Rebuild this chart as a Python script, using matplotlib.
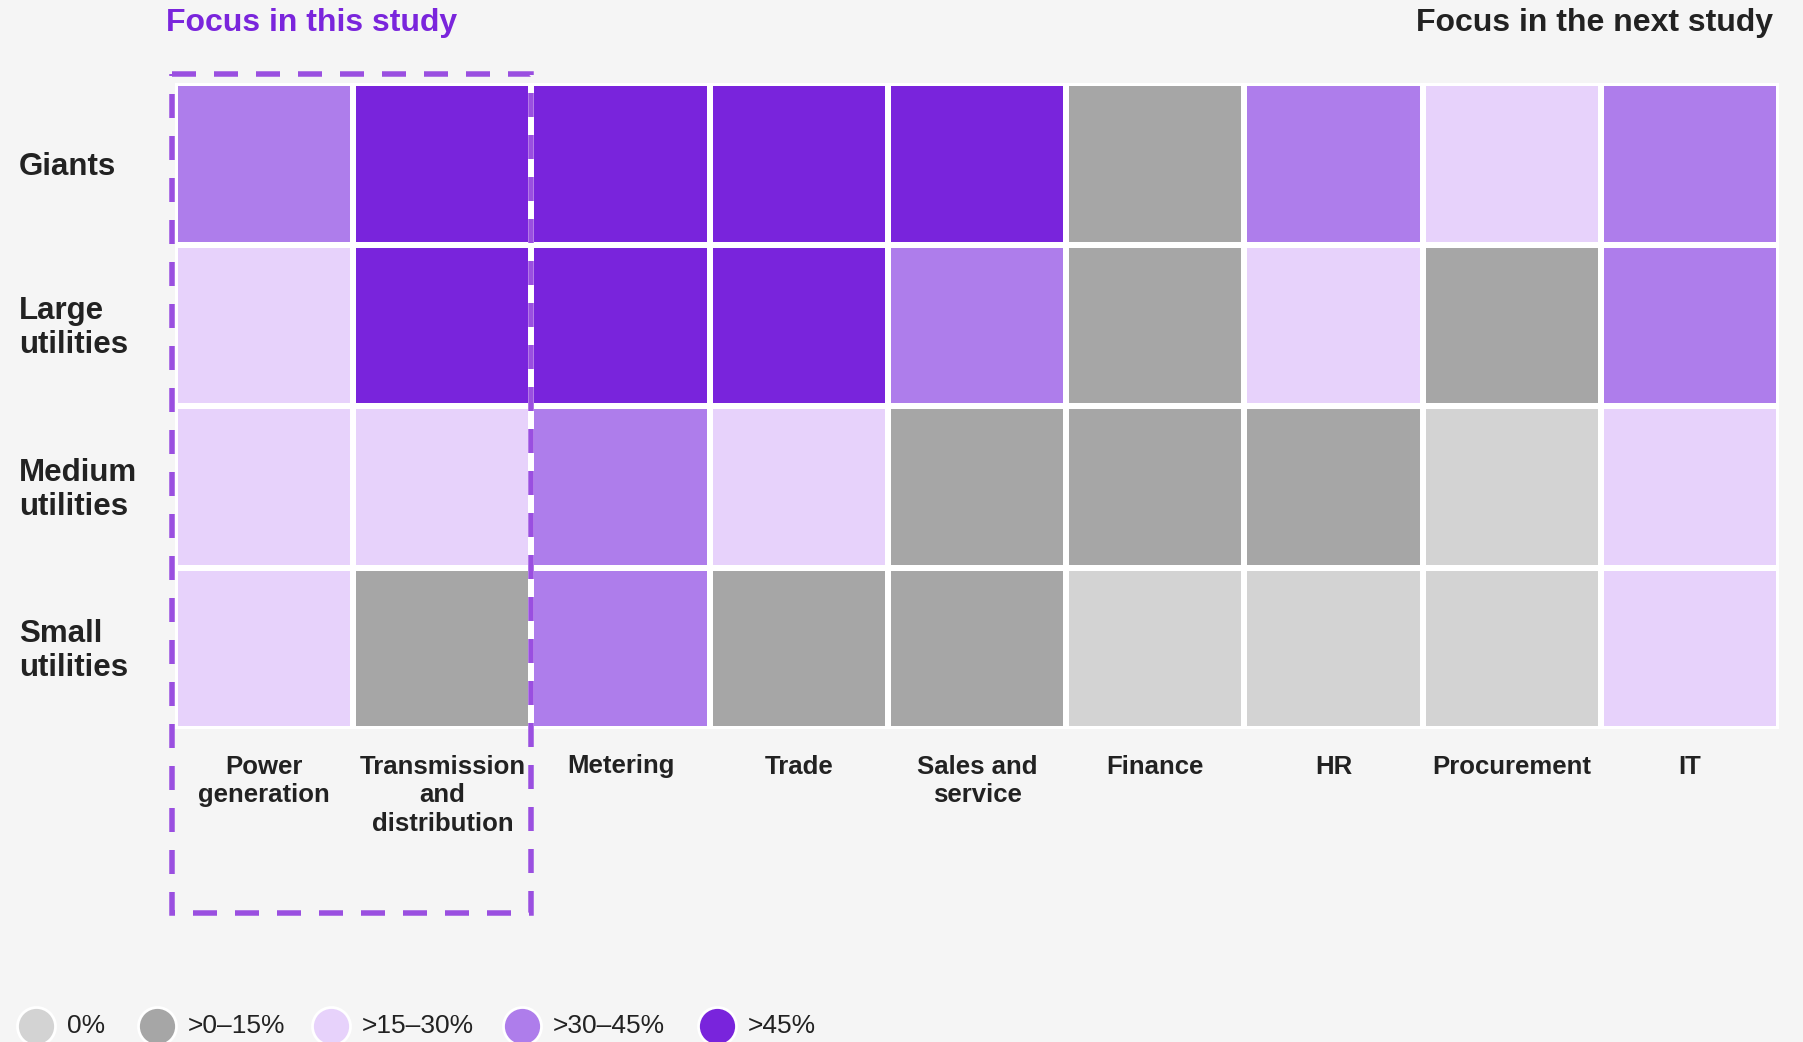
import matplotlib
matplotlib.use("Agg")
import matplotlib.pyplot as plt
from matplotlib.colors import ListedColormap, BoundaryNorm
from matplotlib.patches import Rectangle
import numpy as np

# ---- data ----
columns = ["Power\ngeneration", "Transmission\nand\ndistribution", "Metering", "Trade",
           "Sales and\nservice", "Finance", "HR", "Procurement", "IT"]
rows = ["Giants", "Large\nutilities", "Medium\nutilities", "Small\nutilities"]
# level index: 0 = 0%, 1 = >0–15%, 2 = >15–30%, 3 = >30–45%, 4 = >45%
giants = [3, 4, 4, 4, 4, 1, 3, 2, 3]
large = [2, 4, 4, 4, 3, 1, 2, 1, 3]
medium = [2, 2, 3, 2, 1, 1, 1, 0, 2]
small = [2, 1, 3, 1, 1, 0, 0, 0, 2]
legend_labels = ["0%", ">0–15%", ">15–30%", ">30–45%", ">45%"]
legend_colors = ["#D3D3D3", "#A6A6A6", "#E7D2FB", "#AE7DEB", "#7924DC"]
title_left = "Focus in this study"
title_right = "Focus in the next study"

W, H = 1803, 1042
DPI = 100
BG = "#F5F5F5"
DARK = "#222222"
PURPLE = "#7A25DC"
DASH = "#9A4FE0"

plt.rcParams["font.family"] = ["Liberation Sans", "DejaVu Sans"]

fig = plt.figure(figsize=(W / DPI, H / DPI), dpi=DPI, facecolor=BG)


def fx(x):
    return x / W


def fy(y):
    return 1 - y / H


# heatmap axes (pixel bounds of the grid)
gx0, gx1, gy0, gy1 = 175, 1779, 83, 729
ax = fig.add_axes([fx(gx0), fy(gy1), (gx1 - gx0) / W, (gy1 - gy0) / H])
ax.set_facecolor("white")
data = np.array([giants, large, medium, small])
cmap = ListedColormap(legend_colors)
norm = BoundaryNorm(np.arange(-0.5, 5.5, 1), cmap.N)
ax.pcolormesh(np.arange(-0.5, len(columns)), np.arange(-0.5, len(rows)), data,
              cmap=cmap, norm=norm, edgecolors="white", linewidth=2.9)
ax.set_xlim(-0.5, len(columns) - 0.5)
ax.set_ylim(len(rows) - 0.5, -0.5)
for s in ax.spines.values():
    s.set_visible(False)
ax.set_xticks([])
ax.set_yticks([])

# dashed focus box (in grid data coordinates)
cw = (gx1 - gx0) / len(columns)
ch = (gy1 - gy0) / len(rows)
bx0 = -0.5 + (172 - gx0) / cw
bx1 = -0.5 + (531 - gx0) / cw
by0 = -0.5 + (74 - gy0) / ch
by1 = -0.5 + (913.5 - gy0) / ch
lw_px = 5.5
box = Rectangle((bx0, by0), bx1 - bx0, by1 - by0, fill=False, edgecolor=DASH,
                linewidth=lw_px * 72 / DPI, linestyle=(0, (24 / lw_px, 18 / lw_px)),
                clip_on=False, zorder=5)
ax.add_patch(box)

# titles
fig.text(fx(166), fy(23.5), title_left, color=PURPLE, fontsize=23, fontweight="bold",
         ha="left", va="center")
fig.text(fx(1773), fy(23.5), title_right, color=DARK, fontsize=23, fontweight="bold",
         ha="right", va="center")

# row labels
for i, r in enumerate(rows):
    fig.text(fx(19), fy(gy0 + ch * (i + 0.5) + 3), r, color=DARK, fontsize=22.5,
             fontweight="bold", ha="left", va="center", linespacing=1.16)

# column labels
for j, c in enumerate(columns):
    fig.text(fx(gx0 + cw * (j + 0.5)), fy(754.5), c, color=DARK, fontsize=18.5,
             fontweight="bold", ha="center", va="top", linespacing=1.26)

# legend
lax = fig.add_axes([0, 0, 1, 1], facecolor="none")
lax.set_xlim(0, W)
lax.set_ylim(H, 0)
lax.axis("off")
leg_x = [36, 157, 331, 522, 717]
leg_y = 1026
for x, lab, col in zip(leg_x, legend_labels, legend_colors):
    lax.scatter([x], [leg_y], s=(38 * 72 / DPI) ** 2, color=col, edgecolors="white",
                linewidths=2, clip_on=False, zorder=3)
    lax.text(x + 31, leg_y, lab, color=DARK, fontsize=19,
             family=["Liberation Sans Narrow", "Liberation Sans", "DejaVu Sans"],
             ha="left", va="center")

fig.savefig("out.png", dpi=DPI, facecolor=BG)
